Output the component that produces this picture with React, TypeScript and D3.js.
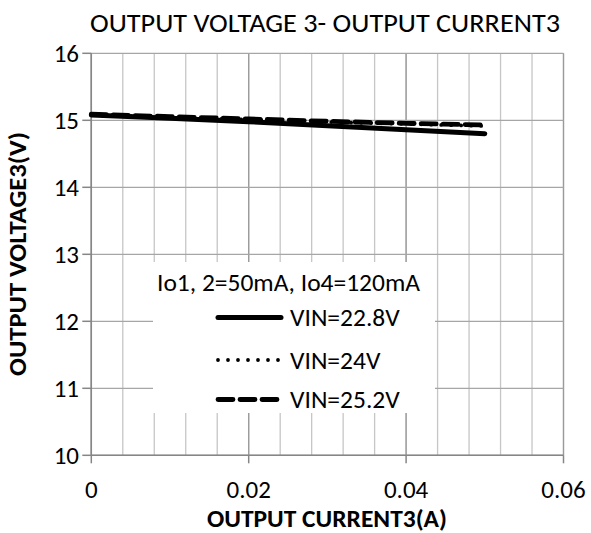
import React from "react";
import * as d3 from "d3";

const currents = [0, 0.01, 0.02, 0.03, 0.04, 0.05];
const vin228 = [15.08, 15.03, 14.98, 14.92, 14.86, 14.8];
const vin24 = [15.08, 15.045, 15.01, 14.975, 14.945, 14.915];
const vin252 = [15.09, 15.055, 15.02, 14.985, 14.955, 14.93];
const xTicks = [0, 0.02, 0.04, 0.06];
const xMinor = d3.range(0, 0.0601, 0.004);
const yTicks = [10, 11, 12, 13, 14, 15, 16];
const seriesNames = ["VIN=22.8V", "VIN=24V", "VIN=25.2V"];
const legendTitle = "Io1, 2=50mA, Io4=120mA";
const title = "OUTPUT VOLTAGE 3- OUTPUT CURRENT3";
const xTitle = "OUTPUT CURRENT3(A)";
const yTitle = "OUTPUT VOLTAGE3(V)";

const W = 591, H = 533;
const L = 91.3, R = 563.5, T = 53.3, B = 455.3;
const font = "Carlito, Calibri, Lato, 'Open Sans', sans-serif";

const styles = [
  { width: 5, dash: "", cap: "round" },
  { width: 3.8, dash: "0 10", cap: "round" },
  { width: 4.8, dash: "15 7", cap: "round" },
];

export default function App() {
  const x = d3.scaleLinear().domain([0, 0.06]).range([L, R]);
  const y = d3.scaleLinear().domain([10, 16]).range([B, T]);
  const line = d3
    .line<number>()
    .x((_, i) => x(currents[i]))
    .y((d) => y(d));
  const series = [vin228, vin24, vin252];
  const legRows = [317.5, 360, 399.5];
  return (
    <svg width={W} height={H} style={{ position: "absolute", left: 0, top: 0, background: "#fff" }}>
      <rect x={0} y={0} width={W} height={H} fill="#fff" />
      {xMinor.map((v, i) => (
        <line key={"mv" + i} x1={x(v)} x2={x(v)} y1={T} y2={B} stroke="#c6c6c6" strokeWidth={1.3} />
      ))}
      {xTicks.map((v, i) => (
        <line key={"Mv" + i} x1={x(v)} x2={x(v)} y1={T} y2={B} stroke="#9a9a9a" strokeWidth={1.3} />
      ))}
      {yTicks.map((v, i) => (
        <line key={"h" + i} x1={L} x2={R} y1={y(v)} y2={y(v)} stroke="#a6a6a6" strokeWidth={1.3} />
      ))}
      <line x1={L} x2={L} y1={T} y2={B} stroke="#868686" strokeWidth={1.5} />
      <line x1={L} x2={R} y1={B} y2={B} stroke="#868686" strokeWidth={1.5} />
      {yTicks.map((v, i) => (
        <line key={"yt" + i} x1={L - 9} x2={L} y1={y(v)} y2={y(v)} stroke="#868686" strokeWidth={1.5} />
      ))}
      {xTicks.map((v, i) => (
        <line key={"xt" + i} x1={x(v)} x2={x(v)} y1={B} y2={B + 8} stroke="#868686" strokeWidth={1.5} />
      ))}
      {yTicks.map((v, i) => (
        <text key={"yl" + i} x={79} y={y(v) + 8.5} textAnchor="end" fontFamily={font} fontSize={25} fill="#000">
          {v}
        </text>
      ))}
      {xTicks.map((v, i) => (
        <text key={"xl" + i} x={x(v)} y={497.5} textAnchor="middle" fontFamily={font} fontSize={25} fill="#000">
          {v === 0 ? "0" : String(v)}
        </text>
      ))}
      {series.map((s, i) => (
        <path
          key={"s" + i}
          d={line(s) || ""}
          fill="none"
          stroke="#000"
          strokeWidth={styles[i].width}
          strokeDasharray={styles[i].dash}
          strokeLinecap={styles[i].cap as any}
        />
      ))}
      <rect x={153} y={262} width={282} height={151} fill="#fff" />
      <text x={157} y={291} fontFamily={font} fontSize={25.5} textLength={263} lengthAdjust="spacingAndGlyphs">
        {legendTitle}
      </text>
      {seriesNames.map((n, i) => (
        <g key={"lg" + i}>
          <line
            x1={218}
            x2={281}
            y1={legRows[i]}
            y2={legRows[i]}
            stroke="#000"
            strokeWidth={styles[i].width}
            strokeDasharray={styles[i].dash}
            strokeLinecap={styles[i].cap as any}
          />
          <text x={290} y={legRows[i] + 8.5} fontFamily={font} fontSize={25.5}>
            {n}
          </text>
        </g>
      ))}
      <text x={325} y={32} textAnchor="middle" fontFamily={font} fontSize={27} textLength={470} lengthAdjust="spacingAndGlyphs">
        {title}
      </text>
      <text x={327} y={527} textAnchor="middle" fontFamily={font} fontSize={23.5} fontWeight="bold" textLength={240} lengthAdjust="spacingAndGlyphs">
        {xTitle}
      </text>
      <text
        transform={`translate(26,254) rotate(-90)`}
        textAnchor="middle"
        fontFamily={font}
        fontSize={24}
        fontWeight="bold"
        textLength={244}
        lengthAdjust="spacingAndGlyphs"
      >
        {yTitle}
      </text>
    </svg>
  );
}
